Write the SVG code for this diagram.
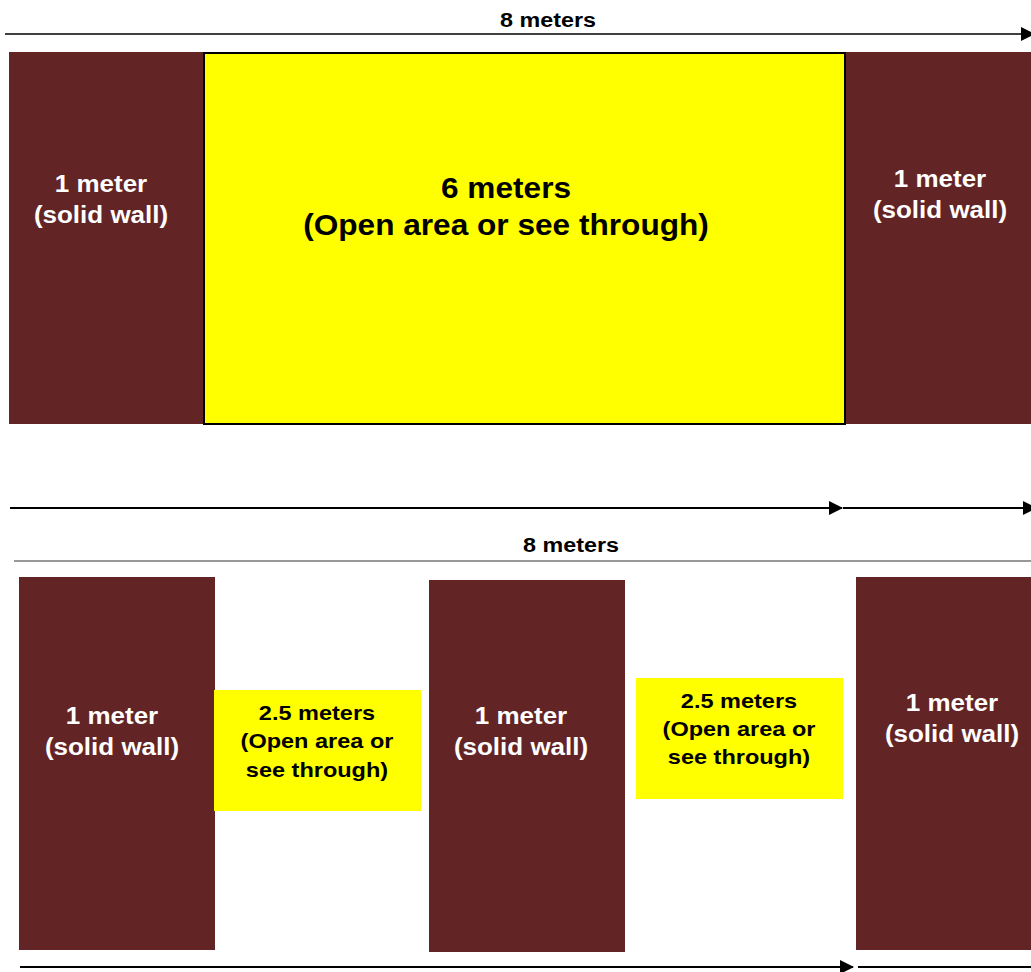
<svg xmlns="http://www.w3.org/2000/svg" width="1031" height="972" viewBox="0 0 1031 972">
<style>
.wall{fill:#632426}
.open{fill:#ffff00}
.wt{fill:#ffffff;font-family:"Liberation Sans",Arial,sans-serif;font-weight:bold;font-size:23px;text-anchor:middle}
.bt{fill:#000000;font-family:"Liberation Sans",Arial,sans-serif;font-weight:bold;text-anchor:middle}
.ln{stroke:#000;stroke-width:2;fill:none}
</style>
<defs>
<marker id="ah" markerWidth="14" markerHeight="14" refX="13" refY="7" orient="auto" markerUnits="userSpaceOnUse" viewBox="0 0 14 14">
<path d="M0,0 L14,7 L0,14 z" fill="#000"/>
</marker>
</defs>
<g id="connectors">
<line class="ln" x1="5" y1="34" x2="1034" y2="34" marker-end="url(#ah)" style="stroke-width:1.5"/>
<line class="ln" x1="10" y1="508" x2="842" y2="508" marker-end="url(#ah)"/>
<line class="ln" x1="843" y1="508" x2="1036" y2="508" marker-end="url(#ah)"/>
<line x1="14" y1="561" x2="1031" y2="561" stroke="#333" stroke-width="1.2"/>
<line class="ln" x1="20" y1="967" x2="853" y2="967" marker-end="url(#ah)"/>
<line class="ln" x1="858" y1="967" x2="1031" y2="967"/>
</g>
<g id="label-top"><text class="bt" transform="translate(548 0) scale(1.11 1)" x="0" y="27" font-size="21">8 meters</text></g>
<g id="label-bottom"><text class="bt" transform="translate(571 0) scale(1.11 1)" x="0" y="552" font-size="21">8 meters</text></g>
<g id="top-left-wall">
<rect class="wall" x="9" y="52" width="195" height="372"/>
<g transform="translate(101 0) scale(1.13 1)">
<text class="wt" x="0" y="192">1 meter</text>
<text class="wt" x="0" y="223">(solid wall)</text>
</g>
</g>
<g id="top-open">
<rect class="open" x="204" y="53" width="641" height="371" stroke="#000" stroke-width="2"/>
<g transform="translate(506 0) scale(1.09 1)">
<text class="bt" x="0" y="198" font-size="29">6 meters</text>
<text class="bt" x="0" y="235" font-size="29">(Open area or see through)</text>
</g>
</g>
<g id="top-right-wall">
<rect class="wall" x="846" y="52" width="185" height="372"/>
<g transform="translate(940 0) scale(1.13 1)">
<text class="wt" x="0" y="187">1 meter</text>
<text class="wt" x="0" y="218">(solid wall)</text>
</g>
</g>
<g id="bottom-left-wall">
<rect class="wall" x="19" y="577" width="196" height="373"/>
<g transform="translate(112 0) scale(1.13 1)">
<text class="wt" x="0" y="724">1 meter</text>
<text class="wt" x="0" y="755">(solid wall)</text>
</g>
</g>
<g id="bottom-open-1">
<rect class="open" x="214" y="690" width="207" height="121"/>
<g transform="translate(317 0) scale(1.12 1)">
<text class="bt" x="0" y="720" font-size="21">2.5 meters</text>
<text class="bt" x="0" y="748" font-size="21">(Open area or</text>
<text class="bt" x="0" y="777" font-size="21">see through)</text>
</g>
</g>
<g id="bottom-middle-wall">
<rect class="wall" x="429" y="580" width="196" height="372"/>
<g transform="translate(521 0) scale(1.13 1)">
<text class="wt" x="0" y="724">1 meter</text>
<text class="wt" x="0" y="755">(solid wall)</text>
</g>
</g>
<g id="bottom-open-2">
<rect class="open" x="636" y="678" width="207" height="121"/>
<g transform="translate(739 0) scale(1.12 1)">
<text class="bt" x="0" y="708" font-size="21">2.5 meters</text>
<text class="bt" x="0" y="736" font-size="21">(Open area or</text>
<text class="bt" x="0" y="764" font-size="21">see through)</text>
</g>
</g>
<g id="bottom-right-wall">
<rect class="wall" x="856" y="577" width="175" height="373"/>
<g transform="translate(952 0) scale(1.13 1)">
<text class="wt" x="0" y="711">1 meter</text>
<text class="wt" x="0" y="742">(solid wall)</text>
</g>
</g>
</svg>
